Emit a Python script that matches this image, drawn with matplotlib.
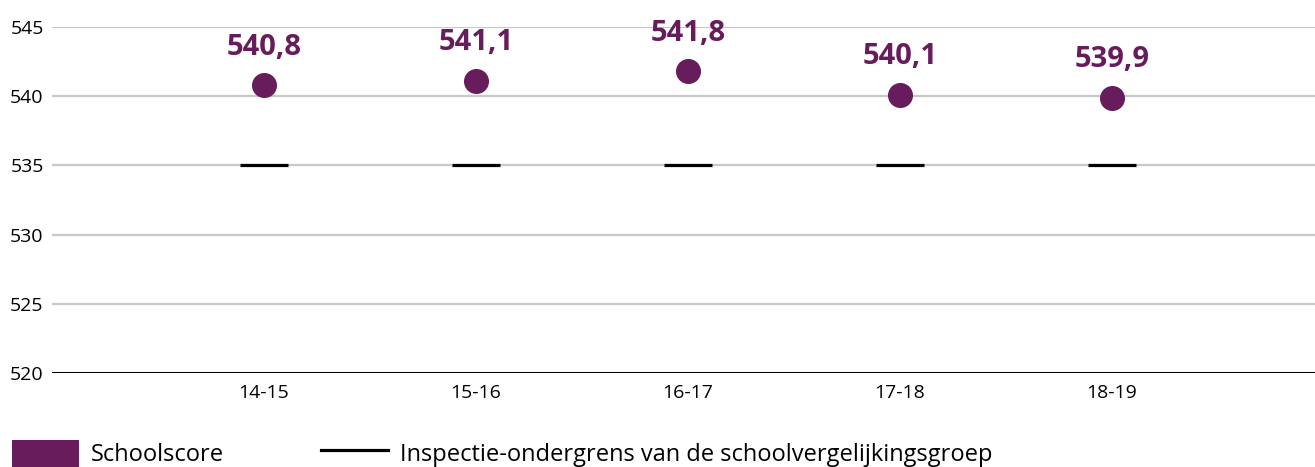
import matplotlib
matplotlib.use("Agg")
from matplotlib import pyplot as plt
from matplotlib.patches import Patch
from matplotlib.lines import Line2D

# data
jaren = ["14-15", "15-16", "16-17", "17-18", "18-19"]
schoolscore = [540.8, 541.1, 541.8, 540.1, 539.9]
ondergrens = [535.0, 535.0, 535.0, 535.0, 535.0]
y_ticks = [520, 525, 530, 535, 540, 545]

paars = "#671c5b"
plt.rcParams['font.family'] = ['Open Sans', 'DejaVu Sans']

fig = plt.figure(figsize=(13.15, 4.67), dpi=100)
ax = fig.add_axes([52 / 1315, 94 / 467, 1272 / 1315, 346 / 467])

x = list(range(len(jaren)))

for yv in y_ticks[1:]:
    ax.axhline(yv, color="#c8c8c8", lw=1.6, zorder=0)
ax.axhline(520, color="black", lw=2.2, zorder=1)

# ondergrens as short black dashes
ax.plot(x, ondergrens, linestyle="none", marker="_", markersize=34.5,
        markeredgewidth=2.3, color="black", zorder=2)
# schoolscore dots
ax.plot(x, schoolscore, linestyle="none", marker="o", markersize=17,
        color=paars, zorder=3)

for xi, v in zip(x, schoolscore):
    ax.annotate(f"{v:.1f}".replace(".", ","), (xi, v), xytext=(0, 17),
                textcoords="offset points", ha="center", va="bottom",
                fontsize=21, fontweight="bold", color=paars)

ax.set_xlim(-1, 5)
ax.set_ylim(520, 545)
ax.set_xticks(x)
ax.set_xticklabels(jaren, fontsize=14)
ax.set_yticks(y_ticks)
ax.set_yticklabels([str(t) for t in y_ticks], fontsize=14)
ax.tick_params(length=0, pad=6)
ax.tick_params(axis="x", pad=8)
for s in ax.spines.values():
    s.set_visible(False)

handles = [Patch(facecolor=paars, edgecolor="none"),
           Line2D([0], [0], color="black", lw=2.3)]
labels = ["Schoolscore", "Inspectie-ondergrens van de schoolvergelijkingsgroep"]
fig.legend(handles, labels, loc="lower left", bbox_to_anchor=(12 / 1315, 0),
           ncol=2, frameon=False, fontsize=17, handlelength=2.85, handleheight=1.4,
           handletextpad=0.5, columnspacing=4.1, borderaxespad=0, borderpad=0)

fig.savefig("out.png", dpi=100)
